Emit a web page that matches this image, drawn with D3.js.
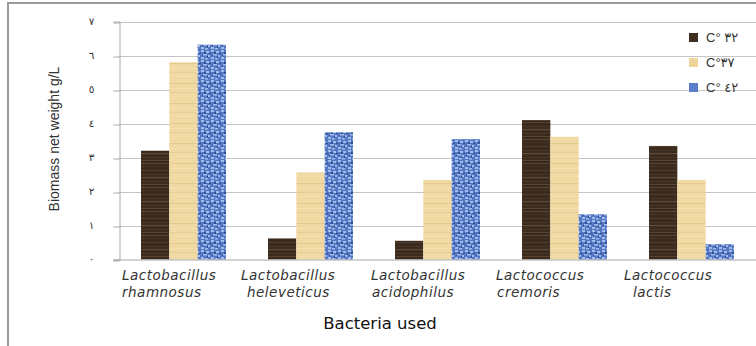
<!DOCTYPE html>
<html>
<head>
<meta charset="utf-8">
<script src="https://cdn.jsdelivr.net/npm/d3@7"></script>
<style>
  html, body { margin: 0; padding: 0; background: #fff; }
  svg { display: block; }
</style>
</head>
<body>
<svg id="chart" width="756" height="346"></svg>
<script>
// Bacteria strains (two-line italic names)
const categories = [
  "Lactobacillus rhamnosus",
  "Lactobacillus heleveticus",
  "Lactobacillus acidophilus",
  "Lactococcus cremoris",
  "Lactococcus lactis"
];
const categoryLines = [
  ["Lactobacillus", "rhamnosus"],
  ["Lactobacillus", "heleveticus"],
  ["Lactobacillus", "acidophilus"],
  ["Lactococcus", "cremoris"],
  ["Lactococcus", "lactis"]
];

// Incubation temperatures
const seriesNames = ["C° ٣٢", "C°٣٧", "C° ٤٢"];

// Biomass net weight (g/L) per strain, one array per temperature
const values32 = [3.2, 0.62, 0.55, 4.1, 3.34];
const values37 = [5.8, 2.56, 2.34, 3.61, 2.34];
const values42 = [6.32, 3.74, 3.54, 1.33, 0.45];

// Y axis ticks with Arabic-Indic numerals
const yTickValues = [0, 1, 2, 3, 4, 5, 6, 7];
const yTickLabels = ["٠", "١", "٢", "٣", "٤", "٥", "٦", "٧"];

const seriesValues = [values32, values37, values42];
const fills = ["url(#wood)", "url(#paper)", "url(#denim)"];

const svg = d3.select("#chart");
const W = 756, H = 346;

// ---- texture fills for the three series ----
const defs = svg.append("defs");

const wood = defs.append("pattern").attr("id", "wood")
  .attr("patternUnits", "userSpaceOnUse").attr("width", 30).attr("height", 24);
wood.append("rect").attr("width", 30).attr("height", 24).attr("fill", "#3b2b1e");
[[2, 1, "#54402c"], [6, 0.8, "#4a3726"], [9, 1.2, "#63503a"], [13, 0.8, "#4d3a28"],
 [16, 1, "#5a4631"], [19, 0.7, "#6b5740"], [22, 1, "#47342a"]].forEach(s => {
  wood.append("rect").attr("x", 0).attr("y", s[0]).attr("width", 30)
    .attr("height", s[1]).attr("fill", s[2]).attr("opacity", 0.9);
});

const paper = defs.append("pattern").attr("id", "paper")
  .attr("patternUnits", "userSpaceOnUse").attr("width", 30).attr("height", 20);
paper.append("rect").attr("width", 30).attr("height", 20).attr("fill", "#f0d9a3");
[[3, 1, "#e6c98e"], [8, 0.8, "#f5e2b5"], [12, 1, "#e8cd94"], [16, 0.8, "#f4dfae"]].forEach(s => {
  paper.append("rect").attr("x", 0).attr("y", s[0]).attr("width", 30)
    .attr("height", s[1]).attr("fill", s[2]);
});

const denim = defs.append("pattern").attr("id", "denim")
  .attr("patternUnits", "userSpaceOnUse").attr("width", 10).attr("height", 10);
denim.append("rect").attr("width", 10).attr("height", 10).attr("fill", "#5576c2");
[[0, 0, 3, 2], [5, 1, 3, 2], [2, 4, 4, 1.5], [7, 5, 2, 2], [0, 7, 3, 2], [4, 8, 3, 1.5]].forEach(b => {
  denim.append("rect").attr("x", b[0]).attr("y", b[1]).attr("width", b[2])
    .attr("height", b[3]).attr("fill", "#a9c3f0").attr("opacity", 0.9);
});
[[3, 2, 2, 2], [8, 3, 2, 1], [6, 6, 1, 2], [1, 5, 1, 1]].forEach(b => {
  denim.append("rect").attr("x", b[0]).attr("y", b[1]).attr("width", b[2])
    .attr("height", b[3]).attr("fill", "#2f4f96");
});

// ---- outer frame ----
svg.append("path")
  .attr("d", `M8,${H + 5} V3 H${W + 5}`)
  .attr("fill", "none").attr("stroke", "#9a9a9a").attr("stroke-width", 2);

// ---- scales ----
const plotLeft = 119;
const y = d3.scaleLinear().domain([0, 7]).range([259.5, 21.5]);

const x0 = d3.scaleBand().domain(categories)
  .range([120, 755]).paddingInner(42 / 127).paddingOuter(21 / 127);
const x1 = d3.scaleBand().domain(seriesNames).range([0, x0.bandwidth()]);

// category label left edges relative to each bar group (line 1, line 2)
const labelNudge = [[-19, -19], [-27, -21], [-24, -23], [-26, -25], [-25, -16]];

// ---- gridlines ----
svg.append("g").selectAll("line")
  .data(yTickValues.filter(v => v > 0))
  .join("line")
  .attr("x1", plotLeft).attr("x2", W)
  .attr("y1", d => Math.round(y(d)) + 0.5).attr("y2", d => Math.round(y(d)) + 0.5)
  .attr("stroke", "#c4c4c4").attr("stroke-width", 1.2);

// ---- y axis ----
const yAxis = d3.axisLeft(y).tickValues(yTickValues)
  .tickFormat((d, i) => yTickLabels[i]).tickSize(6).tickPadding(19);
const gy = svg.append("g").attr("transform", `translate(${plotLeft + 0.5},0)`).call(yAxis);
gy.select(".domain").attr("stroke", "#a8a8a8");
gy.selectAll(".tick line").attr("stroke", "#a8a8a8");
gy.selectAll(".tick text")
  .attr("font-family", "'DejaVu Sans', sans-serif")
  .attr("font-size", 10.5).attr("fill", "#333");
gy.selectAll(".tick line").attr("transform", (d) => {
  const py = y(d);
  return `translate(0,${Math.round(py) + 0.5 - py})`;
});

// ---- bars ----
const groups = svg.append("g").selectAll("g")
  .data(categories)
  .join("g")
  .attr("transform", d => `translate(${x0(d)},0)`);

groups.selectAll("rect")
  .data((d, ci) => seriesNames.map((s, si) => ({ s, si, v: seriesValues[si][ci] })))
  .join("rect")
  .attr("x", d => x1(d.s))
  .attr("width", x1.bandwidth())
  .attr("y", d => y(d.v))
  .attr("height", d => y(0) - y(d.v))
  .attr("fill", (d) => fills[d.si]);

// baseline
svg.append("line")
  .attr("x1", plotLeft - 6).attr("x2", W)
  .attr("y1", 260).attr("y2", 260)
  .attr("stroke", "#a8a8a8").attr("stroke-width", 1.2);

// ---- category labels (two separate lines) ----
const labels = svg.append("g")
  .attr("font-family", "'DejaVu Sans', sans-serif")
  .attr("font-style", "italic").attr("font-size", 13.5)
  .attr("letter-spacing", 0.5).attr("fill", "#333");
categories.forEach((c, i) => {
  labels.append("text").attr("x", x0(c) + labelNudge[i][0]).attr("y", 280)
    .text(categoryLines[i][0]);
  labels.append("text").attr("x", x0(c) + labelNudge[i][1]).attr("y", 297)
    .text(categoryLines[i][1]);
});

// ---- axis titles ----
svg.append("text")
  .attr("x", 380).attr("y", 329).attr("text-anchor", "middle")
  .attr("font-family", "'DejaVu Sans', sans-serif")
  .attr("font-size", 16.5).attr("fill", "#111")
  .text("Bacteria used");

svg.append("text")
  .attr("transform", "translate(59,139) rotate(-90)")
  .attr("text-anchor", "middle")
  .attr("font-family", "'Liberation Sans', Arial, sans-serif")
  .attr("font-size", 14).attr("fill", "#333")
  .text("Biomass net weight g/L");

// ---- legend ----
const legend = svg.append("g").attr("transform", "translate(689,33)");
const rows = legend.selectAll("g").data(seriesNames).join("g")
  .attr("transform", (d, i) => `translate(0,${i * 25})`);
rows.append("rect").attr("width", 9).attr("height", 9)
  .attr("fill", (d, i) => ["#3f2d1e", "#efd49a", "#5b7ecb"][i]);
rows.append("text").attr("x", 17).attr("y", 9)
  .attr("font-family", "'Liberation Sans', 'DejaVu Sans', sans-serif")
  .attr("font-size", 13).attr("fill", "#333")
  .text(d => d);
</script>
</body>
</html>
